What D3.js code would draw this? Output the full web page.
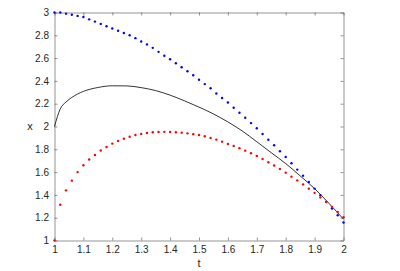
<!DOCTYPE html>
<html>
<head>
<meta charset="utf-8">
<script src="https://cdn.jsdelivr.net/npm/d3@7"></script>
<style>
  html, body { margin: 0; padding: 0; background: #fff; }
  text { font-family: "Liberation Sans", Arial, sans-serif; fill: #262626; }
</style>
</head>
<body>
<div id="chart"></div>
<script>
// Sample times of the dotted series (t = 1.00 .. 2.00, step 0.02)
var Times = d3.range(51).map(I => 1 + I * 0.02);
// Upper dotted series (blue)
var BlueValues = [3.00, 3.00, 2.99, 2.98, 2.97, 2.96, 2.94, 2.92, 2.90, 2.88,
    2.86, 2.84, 2.82, 2.80, 2.775, 2.745, 2.72, 2.69, 2.655, 2.62,
    2.59, 2.555, 2.52, 2.485, 2.45, 2.41, 2.372, 2.335, 2.29, 2.25,
    2.21, 2.165, 2.12, 2.077, 2.03, 1.984, 1.934, 1.884, 1.835, 1.783,
    1.733, 1.678, 1.622, 1.569, 1.514, 1.455, 1.397, 1.339, 1.28, 1.222, 1.158];
// Lower dotted series (red)
var RedValues = [1.00, 1.313, 1.44, 1.525, 1.60, 1.66, 1.71, 1.75, 1.79, 1.82,
    1.85, 1.873, 1.893, 1.91, 1.925, 1.935, 1.943, 1.949, 1.952, 1.953,
    1.952, 1.949, 1.946, 1.94, 1.933, 1.925, 1.915, 1.90, 1.885, 1.867,
    1.847, 1.83, 1.81, 1.788, 1.765, 1.742, 1.715, 1.687, 1.658, 1.628,
    1.595, 1.56, 1.527, 1.492, 1.455, 1.418, 1.378, 1.338, 1.295, 1.25, 1.205];
// Solid curve (black)
var LineTimes = [1.00, 1.02, 1.04, 1.06, 1.08, 1.10, 1.15, 1.20, 1.25, 1.30, 1.35, 1.40,
    1.45, 1.50, 1.55, 1.60, 1.65, 1.70, 1.75, 1.80, 1.85, 1.90, 1.95, 2.00];
var LineValues = [2.00, 2.155, 2.215, 2.255, 2.285, 2.308, 2.342, 2.357, 2.356, 2.341, 2.315, 2.275,
    2.225, 2.17, 2.11, 2.04, 1.96, 1.866, 1.77, 1.675, 1.567, 1.455, 1.325, 1.187];
// Tick labels
var XTicks = [1, 1.1, 1.2, 1.3, 1.4, 1.5, 1.6, 1.7, 1.8, 1.9, 2];
var YTicks = [1, 1.2, 1.4, 1.6, 1.8, 2, 2.2, 2.4, 2.6, 2.8, 3];

var Width = 400, Height = 271;
var Margin = { Top: 12.5, Right: 56.5, Bottom: 30.5, Left: 54.5 };
var SVG = d3.select("#chart").append("svg")
    .attr("width", Width)
    .attr("height", Height);
var X = d3.scaleLinear().domain([1, 2]).range([Margin.Left, Width - Margin.Right]);
var Y = d3.scaleLinear().domain([1, 3]).range([Height - Margin.Bottom, Margin.Top]);
var AxisColor = "#4d4d4d";
var Format = d3.format("");

// Axes (ticks pointing inward, MATLAB style)
function StyleAxis(G) {
    G.select(".domain").attr("stroke", AxisColor).attr("stroke-width", 0.6);
    G.selectAll(".tick line").attr("stroke", AxisColor).attr("stroke-width", 0.6);
    G.selectAll(".tick text").attr("font-size", 10).attr("fill", "#444")
        .attr("font-family", "Liberation Sans, Arial, sans-serif");
}
SVG.append("g").attr("transform", `translate(0,${Y(1)})`)
    .call(d3.axisBottom(X).tickValues(XTicks).tickFormat(Format).tickSizeInner(-3).tickSizeOuter(0).tickPadding(5.5))
    .call(StyleAxis);
SVG.append("g").attr("transform", `translate(0,${Y(3)})`)
    .call(d3.axisTop(X).tickValues(XTicks).tickFormat("").tickSizeInner(-3).tickSizeOuter(0))
    .call(StyleAxis);
SVG.append("g").attr("transform", `translate(${X(1)},0)`)
    .call(d3.axisLeft(Y).tickValues(YTicks).tickFormat(Format).tickSizeInner(-3).tickSizeOuter(0).tickPadding(5.5))
    .call(StyleAxis);
SVG.append("g").attr("transform", `translate(${X(2)},0)`)
    .call(d3.axisRight(Y).tickValues(YTicks).tickFormat("").tickSizeInner(-3).tickSizeOuter(0))
    .call(StyleAxis);

// Axis labels
SVG.append("text").attr("x", (X(1) + X(2)) / 2).attr("y", 267)
    .attr("text-anchor", "middle").attr("font-size", 11).attr("fill", "#444").text("t");
SVG.append("text").attr("x", 30).attr("y", Y(2) + 3)
    .attr("text-anchor", "middle").attr("font-size", 11).attr("fill", "#444").text("x");

// Solid curve
var Line = d3.line().x(D => X(D[0])).y(D => Y(D[1])).curve(d3.curveMonotoneX);
SVG.append("path")
    .datum(LineTimes.map((T, I) => [T, LineValues[I]]))
    .attr("d", Line)
    .attr("fill", "none")
    .attr("stroke", "#000")
    .attr("stroke-width", 0.8);

// Dotted series
function DrawDots(Values, Color) {
    SVG.append("g").selectAll("circle")
        .data(Times.map((T, I) => [T, Values[I]]))
        .enter().append("circle")
        .attr("cx", D => X(D[0]))
        .attr("cy", D => Y(D[1]))
        .attr("r", 1.2)
        .attr("fill", Color);
}
DrawDots(BlueValues, "#0000ff");
DrawDots(RedValues, "#ff0000");
</script>
</body>
</html>
